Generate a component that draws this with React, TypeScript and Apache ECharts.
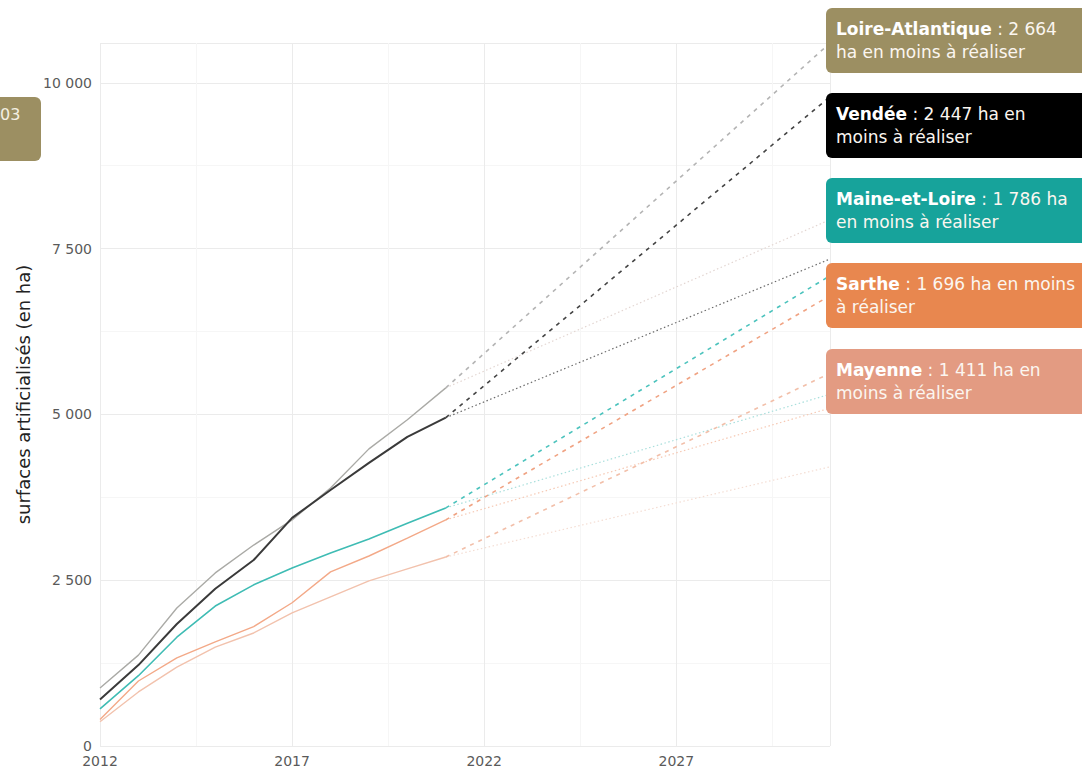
import React, { useEffect, useRef } from "react";
import * as echarts from "echarts";

// ---------- data ----------
const departments = ["Loire-Atlantique", "Vendée", "Maine-et-Loire", "Sarthe", "Mayenne"];
const years = [2012, 2013, 2014, 2015, 2016, 2017, 2018, 2019, 2020, 2021];
const loireAtlantique = [875, 1370, 2080, 2610, 3030, 3410, 3890, 4480, 4920, 5400];
const vendee = [700, 1220, 1840, 2370, 2805, 3440, 3860, 4270, 4660, 4950];
const maineEtLoire = [560, 1060, 1640, 2110, 2430, 2685, 2910, 3120, 3360, 3590];
const sarthe = [400, 980, 1330, 1570, 1800, 2160, 2625, 2865, 3135, 3410];
const mayenne = [365, 815, 1190, 1490, 1704, 2006, 2247, 2489, 2670, 2850];
const horizonYear = 2031;
const projection2031 = [10600, 9790, 7090, 6790, 5620];
const reduction = [2664, 2447, 1786, 1696, 1411];
const xTickStart = 2012;
const xTickStep = 5;
const yTickStep = 2500;

// ---------- styles ----------
const boxColors = ["#9c8f62", "#000000", "#17a39b", "#e8874f", "#e39b82"];
const solidColors = ["#aaaaa6", "#3a3a3a", "#3fbcb4", "#f3a988", "#f2c2ad"];
const dashColors = ["#b4b4b4", "#444444", "#4cc3bd", "#f0a383", "#f2bfa9"];
const dotColors = ["#e3d6d2", "#6a6a6a", "#a9dfdc", "#f6c9b4", "#f4ddd3"];
const solidWidths = [1.4, 2, 1.6, 1.4, 1.4];
const boxTops = [8, 93, 178, 263, 349];
const wrapAt = [
  ["", "ha en moins à réaliser"],
  ["ha en", "moins à réaliser"],
  ["ha", "en moins à réaliser"],
  ["ha en moins", "à réaliser"],
  ["ha en", "moins à réaliser"],
];
const FONT = "'DejaVu Sans', 'Liberation Sans', Arial, sans-serif";

const fmt = (v: number) => {
  const s = String(Math.round(v));
  return s.replace(/\B(?=(\d{3})+(?!\d))/g, " ");
};

export default function App() {
  const ref = useRef<HTMLDivElement>(null);
  useEffect(() => {
    document.body.style.margin = "0";
    if (!ref.current) return;
    const chart = echarts.init(ref.current, undefined, { renderer: "svg" });
    const actual = [loireAtlantique, vendee, maineEtLoire, sarthe, mayenne];
    const series: any[] = [];
    // dotted targets (behind)
    actual.forEach((arr, i) => {
      const last = arr[arr.length - 1];
      series.push({
        type: "line",
        name: departments[i] + " objectif",
        data: [[years[years.length - 1], last], [horizonYear, projection2031[i] - reduction[i]]],
        showSymbol: false,
        lineStyle: { color: dotColors[i], width: 1.2, type: [1.5, 2.5] },
        z: 1,
      });
    });
    actual.forEach((arr, i) => {
      const last = arr[arr.length - 1];
      series.push({
        type: "line",
        name: departments[i] + " tendance",
        data: [[years[years.length - 1], last], [horizonYear, projection2031[i]]],
        showSymbol: false,
        lineStyle: { color: dashColors[i], width: 1.6, type: [4, 5] },
        z: 2,
      });
    });
    actual.forEach((arr, i) => {
      series.push({
        type: "line",
        name: departments[i],
        data: arr.map((v, k) => [years[k], v]),
        showSymbol: false,
        lineStyle: { color: solidColors[i], width: solidWidths[i] },
        z: 3,
      });
    });

    const graphics: any[] = [];
    // partially visible box on the left
    graphics.push({
      type: "rect",
      shape: { x: -30, y: 97, width: 71, height: 64, r: 6 },
      style: { fill: boxColors[0] },
      z: 10,
    });
    graphics.push({
      type: "text",
      x: 0,
      y: 114,
      style: {
        text: "03",
        fill: "#f4efe2",
        font: `16px ${FONT}`,
        textAlign: "left",
        textVerticalAlign: "middle",
      },
      z: 11,
    });
    departments.forEach((d, i) => {
      const top = boxTops[i];
      graphics.push({
        type: "rect",
        shape: { x: 826, y: top, width: 320, height: 65, r: 6 },
        style: { fill: boxColors[i] },
        z: 10,
      });
      const l1 = wrapAt[i][0];
      const line1 = `{b|${d}}{r| : ${fmt(reduction[i])}${l1 ? " " + l1 : ""}}`;
      const line2 = `{r|${wrapAt[i][1]}}`;
      graphics.push({
        type: "text",
        x: 836,
        y: top + 9,
        style: {
          text: line1 + "\n" + line2,
          fill: "#ffffff",
          fontSize: 17,
          fontFamily: FONT,
          lineHeight: 23,
          textVerticalAlign: "top",
          rich: {
            b: { fontWeight: "bold", fontSize: 17, fontFamily: FONT, fill: "#ffffff", lineHeight: 23 },
            r: { fontWeight: "normal", fontSize: 17, fontFamily: FONT, fill: "#fbf6f0", lineHeight: 23 },
          },
        },
        z: 11,
      });
    });

    chart.setOption({
      animation: false,
      backgroundColor: "#ffffff",
      grid: { left: 100, right: 252, top: 43, bottom: 24, containLabel: false },
      xAxis: {
        type: "value",
        min: xTickStart,
        max: horizonYear,
        interval: xTickStep,
        axisLine: { show: false },
        axisTick: { show: false },
        axisLabel: {
          color: "#5a5a5a",
          fontSize: 14,
          fontFamily: FONT,
          margin: 8,
          showMaxLabel: false,
          formatter: (v: number) => String(v),
        },
        splitLine: { show: true, lineStyle: { color: "#ebebeb", width: 1 } },
        minorTick: { show: false, splitNumber: 2 },
        minorSplitLine: { show: true, lineStyle: { color: "#f6f6f6", width: 1 } },
      },
      yAxis: {
        type: "value",
        min: 0,
        max: 10600,
        interval: yTickStep,
        name: "surfaces artificialisés (en ha)",
        nameLocation: "middle",
        nameGap: 64,
        nameRotate: 90,
        nameTextStyle: { color: "#222222", fontSize: 18, fontFamily: FONT },
        axisLine: { show: false },
        axisTick: { show: false },
        axisLabel: {
          color: "#5a5a5a",
          fontSize: 14,
          fontFamily: FONT,
          margin: 8,
          showMaxLabel: false,
          formatter: (v: number) => fmt(v),
        },
        splitLine: { show: true, lineStyle: { color: "#ebebeb", width: 1 } },
        minorTick: { show: false, splitNumber: 2 },
        minorSplitLine: { show: true, lineStyle: { color: "#f6f6f6", width: 1 } },
      },
      series,
      graphic: graphics,
    });
    return () => chart.dispose();
  }, []);
  return <div ref={ref} style={{ width: 1082, height: 770 }} />;
}
